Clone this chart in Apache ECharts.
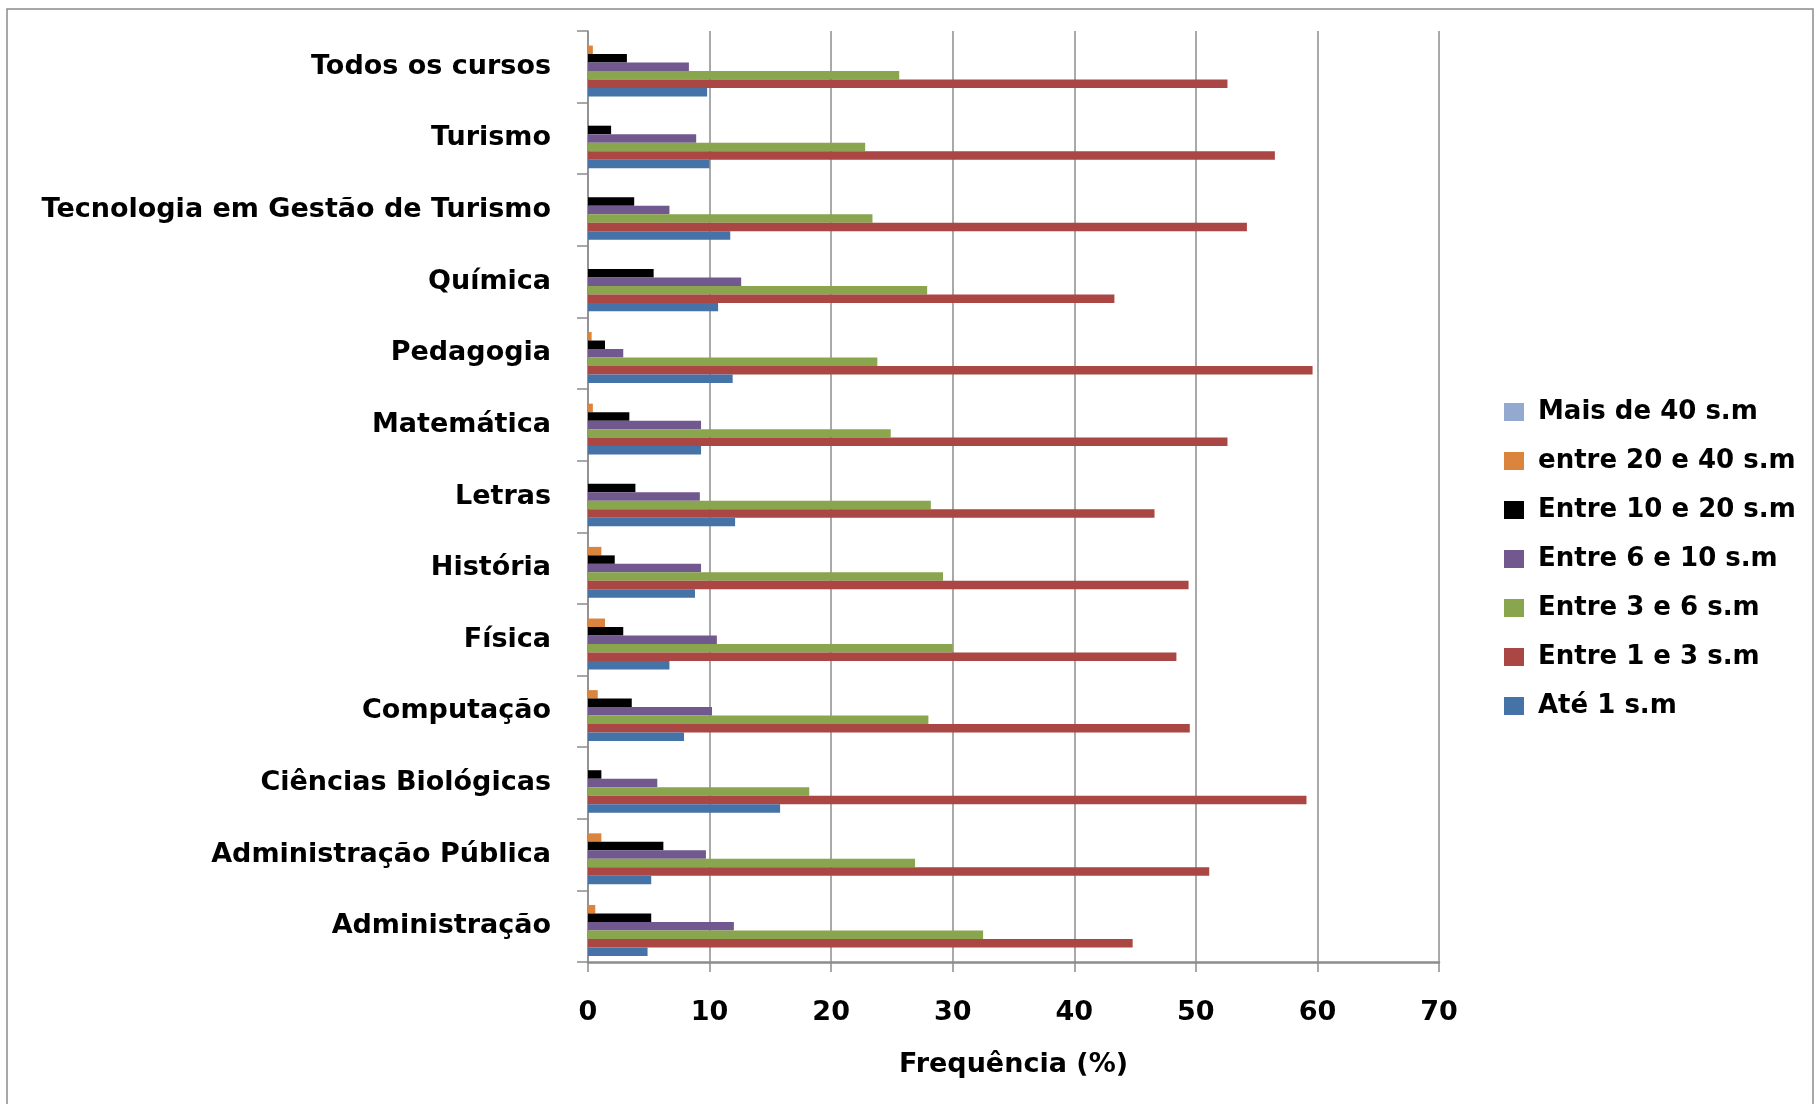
<!DOCTYPE html>
<html>
<head>
<meta charset="utf-8">
<script src="https://cdn.jsdelivr.net/npm/echarts@6/dist/echarts.min.js"></script>
<style>
html,body{margin:0;padding:0;background:#fff;}
#chart{width:1820px;height:1104px;}
</style>
</head>
<body>
<div id="chart"></div>
<script>
const categories = ['Administração','Administração Pública','Ciências Biológicas','Computação','Física','História','Letras','Matemática','Pedagogia','Química','Tecnologia em Gestão de Turismo','Turismo','Todos os cursos'];
const seriesNames = ['Mais de 40 s.m','entre 20 e 40 s.m','Entre 10 e 20 s.m','Entre 6 e 10 s.m','Entre 3 e 6 s.m','Entre 1 e 3 s.m','Até 1 s.m'];
const mais40    = [0, 0, 0, 0, 0, 0, 0, 0, 0, 0, 0, 0, 0];
const entre20e40= [0.6, 1.1, 0, 0.8, 1.4, 1.1, 0, 0.4, 0.3, 0, 0, 0, 0.4];
const entre10e20= [5.2, 6.2, 1.1, 3.6, 2.9, 2.2, 3.9, 3.4, 1.4, 5.4, 3.8, 1.9, 3.2];
const entre6e10 = [12.0, 9.7, 5.7, 10.2, 10.6, 9.3, 9.2, 9.3, 2.9, 12.6, 6.7, 8.9, 8.3];
const entre3e6  = [32.5, 26.9, 18.2, 28.0, 30.0, 29.2, 28.2, 24.9, 23.8, 27.9, 23.4, 22.8, 25.6];
const entre1e3  = [44.8, 51.1, 59.1, 49.5, 48.4, 49.4, 46.6, 52.6, 59.6, 43.3, 54.2, 56.5, 52.6];
const ate1      = [4.9, 5.2, 15.8, 7.9, 6.7, 8.8, 12.1, 9.3, 11.9, 10.7, 11.7, 10.0, 9.8];
const xTicks = [0, 10, 20, 30, 40, 50, 60, 70];
const colors = ['#93A9CF','#DB843D','#000000','#71588F','#89A54E','#AA4643','#4572A7'];
const allData = [mais40, entre20e40, entre10e20, entre6e10, entre3e6, entre1e3, ate1];

const FONT = 'DejaVu Sans';
const chart = echarts.init(document.getElementById('chart'));
chart.setOption({
  animation: false,
  color: colors,
  graphic: [{
    type: 'rect', silent: true,
    shape: {x: 7, y: 9, width: 1806, height: 1120},
    style: {fill: 'none', stroke: '#8c8c8c', lineWidth: 1.5}
  }],
  grid: {left: 588, right: 381, top: 31, bottom: 142, containLabel: false},
  legend: {
    orient: 'vertical',
    left: 1499, top: 393,
    data: seriesNames.slice(),
    itemWidth: 20, itemHeight: 18, itemGap: 21,
    icon: 'rect',
    textStyle: {fontFamily: FONT, fontWeight: 'bold', fontSize: 26, color: '#000', lineHeight: 28, padding: [0,0,0,9]}
  },
  xAxis: {
    type: 'value', min: 0, max: 70, interval: 10,
    name: 'Frequência (%)', nameLocation: 'middle', nameGap: 89,
    nameTextStyle: {fontFamily: FONT, fontWeight: 'bold', fontSize: 27, color: '#000'},
    axisLine: {show: true, lineStyle: {color: '#8c8c8c', width: 2.5}},
    axisTick: {show: true, length: 10, lineStyle: {color: '#8c8c8c', width: 1.5}},
    axisLabel: {fontFamily: FONT, fontWeight: 'bold', fontSize: 27, color: '#000', margin: 37,
      formatter: v => xTicks.includes(v) ? String(v) : ''},
    splitLine: {show: true, lineStyle: {color: '#8c8c8c', width: 1.5}}
  },
  yAxis: {
    type: 'category', data: categories,
    axisLine: {show: true, lineStyle: {color: '#8c8c8c', width: 1.5}},
    axisTick: {show: true, length: 11, lineStyle: {color: '#8c8c8c', width: 1.5}},
    axisLabel: {fontFamily: FONT, fontWeight: 'bold', fontSize: 27, color: '#000', margin: 37,
      padding: [4, 0, 0, 0]}
  },
  series: seriesNames.map((n, i) => ({
    name: n, type: 'bar', data: allData[i],
    barGap: '0%', barCategoryGap: '17%',
    itemStyle: {color: colors[i]}
  }))
});
</script>
</body>
</html>
